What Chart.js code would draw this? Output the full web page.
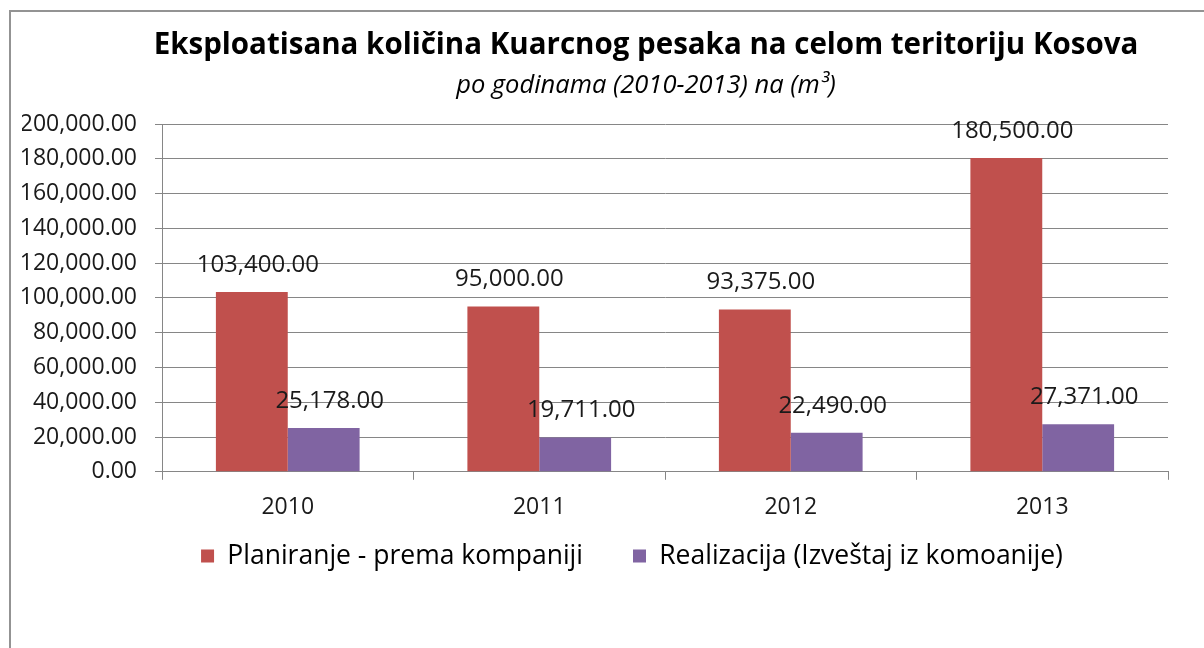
<!DOCTYPE html>
<html>
<head>
<meta charset="utf-8">
<script src="https://cdn.jsdelivr.net/npm/chart.js@4.4.1/dist/chart.umd.min.js"></script>
<style>
  html, body { margin: 0; padding: 0; background: #fff; }
  #frame { position: absolute; left: 9px; top: 10px; width: 1300px; height: 700px;
           border-top: 2px solid #939393; border-left: 2px solid #939393; }
  #wrap { position: absolute; left: 0; top: 0; width: 1204px; height: 648px; }
</style>
</head>
<body>
<div id="frame"></div>
<div id="wrap"><canvas id="chart"></canvas></div>
<script>
const godine = ['2010', '2011', '2012', '2013'];
const planiranje = [103400, 95000, 93375, 180500];
const realizacija = [25178, 19711, 22490, 27371];
const nazivi = ['Planiranje - prema kompaniji', 'Realizacija (Izveštaj iz komoanije)'];

const fmt = v => v.toLocaleString('en-US', { minimumFractionDigits: 2, maximumFractionDigits: 2 });
const FONT = "'Open Sans', sans-serif";

// natpisi iznad stubova
const vrednostiPlugin = {
    id: 'vrednosti',
    afterDatasetsDraw(chart) {
        const ctx = chart.ctx;
        ctx.save();
        ctx.font = "24px " + FONT;
        ctx.fillStyle = '#1a1a1a';
        ctx.textAlign = 'center';
        ctx.textBaseline = 'middle';
        chart.data.datasets.forEach((ds, i) => {
            chart.getDatasetMeta(i).data.forEach((bar, j) => {
                ctx.fillText(fmt(ds.data[j]), bar.x + 6, bar.y - 27);
            });
        });
        ctx.restore();
    }
};

// naslov i legenda malo pomereni, kao u originalu (Excel)
const pomeriPlugin = {
    id: 'pomeri',
    afterLayout(chart) {
        chart.boxes.forEach(b => {
            if (b.position === 'top' && !b.axis) { b.left -= 19; b.right -= 19; }
        });
        const lg = chart.legend;
        lg.left -= 33; lg.right -= 33;
        lg.top -= 43; lg.bottom -= 43;
    }
};

new Chart(document.getElementById('chart'), {
    type: 'bar',
    data: {
        labels: godine,
        datasets: [{
            label: nazivi[0],
            data: planiranje,
            backgroundColor: '#C0504D'
        }, {
            label: nazivi[1],
            data: realizacija,
            backgroundColor: '#8064A2'
        }]
    },
    options: {
        responsive: true,
        maintainAspectRatio: false,
        animation: false,
        categoryPercentage: 0.5714,
        barPercentage: 1,
        layout: { padding: { left: 22, right: 36, top: 0, bottom: 25.7 } },
        plugins: {
            title: {
                display: true,
                fullSize: false,
                text: 'Eksploatisana količina Kuarcnog pesaka na celom teritoriju Kosova',
                color: '#000',
                font: { family: FONT, size: 29.5, weight: 'bold' },
                padding: { top: 28.3, bottom: 0 }
            },
            subtitle: {
                display: true,
                fullSize: false,
                text: 'po godinama (2010-2013) na (m³)',
                color: '#000',
                font: { family: FONT, size: 25.5, style: 'italic' },
                padding: { top: 7, bottom: 22.7 }
            },
            legend: {
                position: 'bottom',
                fullSize: false,
                labels: {
                    color: '#000',
                    font: { family: FONT, size: 26.5 },
                    boxWidth: 13,
                    boxHeight: 13,
                    padding: 50
                }
            },
            tooltip: { enabled: false }
        },
        scales: {
            x: {
                grid: { drawOnChartArea: false, drawTicks: true, tickLength: 8, color: '#868686' },
                border: { display: true, color: '#868686' },
                ticks: { color: '#1a1a1a', font: { family: FONT, size: 23 }, padding: 14.2 }
            },
            y: {
                min: 0,
                max: 200000,
                ticks: {
                    stepSize: 20000,
                    color: '#1a1a1a',
                    font: { family: FONT, size: 23 },
                    padding: 18,
                    callback: v => fmt(v)
                },
                grid: { color: '#868686', tickLength: 7 },
                border: { display: true, color: '#868686' },
                afterFit: s => { s.width = 140; }
            }
        }
    },
    plugins: [vrednostiPlugin, pomeriPlugin]
});
</script>
</body>
</html>
